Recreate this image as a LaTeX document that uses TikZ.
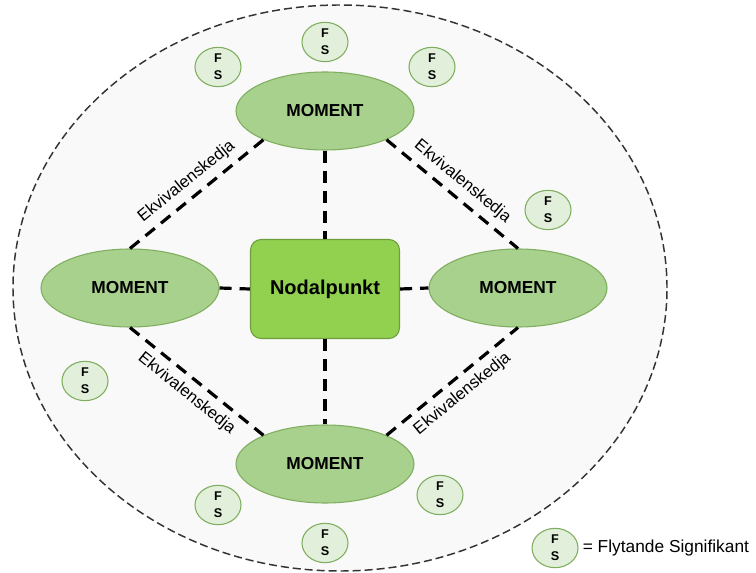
\documentclass[tikz,border=0pt]{standalone}
\usepackage{fontspec}
\setmainfont{Liberation Sans}
\usetikzlibrary{shapes.geometric,positioning}

\definecolor{momentfill}{HTML}{A9D18E}
\definecolor{momentdraw}{HTML}{7FAE5E}
\definecolor{nodalfill}{HTML}{92D050}
\definecolor{nodaldraw}{HTML}{6E9E3C}
\definecolor{fsfill}{HTML}{E2EFDA}
\definecolor{fsdraw}{HTML}{7FAE5E}
\definecolor{fieldfill}{HTML}{F9F9F9}

\begin{document}
\begin{tikzpicture}[
    x=0.75pt,
    y=-0.75pt,
    moment/.style={
      ellipse,
      draw=momentdraw,
      fill=momentfill,
      line width=0.8pt,
      minimum width=133.5pt,
      minimum height=58.5pt,
      inner sep=0pt,
      font=\fontsize{13}{15}\selectfont\bfseries
    },
    nodal/.style={
      rectangle,
      rounded corners=8pt,
      draw=nodaldraw,
      fill=nodalfill,
      line width=0.8pt,
      minimum width=111.75pt,
      minimum height=74.25pt,
      font=\fontsize{15}{18}\selectfont\bfseries
    },
    fs/.style={
      ellipse,
      draw=fsdraw,
      fill=fsfill,
      line width=0.8pt,
      minimum width=34.5pt,
      minimum height=29.5pt,
      inner sep=0pt,
      align=center,
      font=\fontsize{9.5}{13}\selectfont\bfseries
    },
    chain/.style={
      line width=2.4pt,
      dash pattern=on 9pt off 6pt
    },
    chainlabel/.style={
      sloped,
      inner sep=3pt,
      font=\fontsize{12.5}{15}\selectfont
    }
  ]

    \useasboundingbox (0,0) rectangle (756,573);

    % Field of floating signifiers
    \draw[fieldfill, fill=fieldfill] (340,288) ellipse [x radius=245.25pt, y radius=212.25pt];
    \draw[black!80, line width=1.1pt, dash pattern=on 6pt off 3pt] (340,288) ellipse [x radius=245.25pt, y radius=212.25pt];

    % Nodal point and moments
    \node[nodal] (nodal) at (325,289) {Nodalpunkt};
    \node[moment] (top) at (325,111) {MOMENT};
    \node[moment] (left) at (130,288) {MOMENT};
    \node[moment] (right) at (518,288) {MOMENT};
    \node[moment] (bottom) at (325,464) {MOMENT};

    % Links to the nodal point
    \draw[chain] (top.south) -- (nodal.north);
    \draw[chain] (left.east) -- (nodal.west);
    \draw[chain] (nodal.east) -- (right.west);
    \draw[chain] (nodal.south) -- (bottom.north);

    % Chains of equivalence
    \draw[chain] (left.north) -- node[chainlabel, above=2pt] (chainA) {Ekvivalenskedja} (top.205);
    \draw[chain] (top.335) -- node[chainlabel, above=2pt] (chainB) {Ekvivalenskedja} (right.north);
    \draw[chain] (left.south) -- node[chainlabel, below=2pt] (chainC) {Ekvivalenskedja} (bottom.155);
    \draw[chain] (bottom.25) -- node[chainlabel, below=2pt] (chainD) {Ekvivalenskedja} (right.south);

    % Floating signifiers
    \foreach \p [count=\i] in {(218,67), (325,42), (432,67), (548,210), (85,381), (218,505), (325,543), (440,495)} {
      \node[fs] (fs\i) at \p {F\\S};
    }

    % Legend
    \node[fs] (legendfs) at (555,548) {F\\S};
    \node[right=1pt of legendfs, inner sep=2pt, font=\fontsize{13}{15}\selectfont] (legendtext) {= Flytande Signifikant};

  \end{tikzpicture}
\end{document}
